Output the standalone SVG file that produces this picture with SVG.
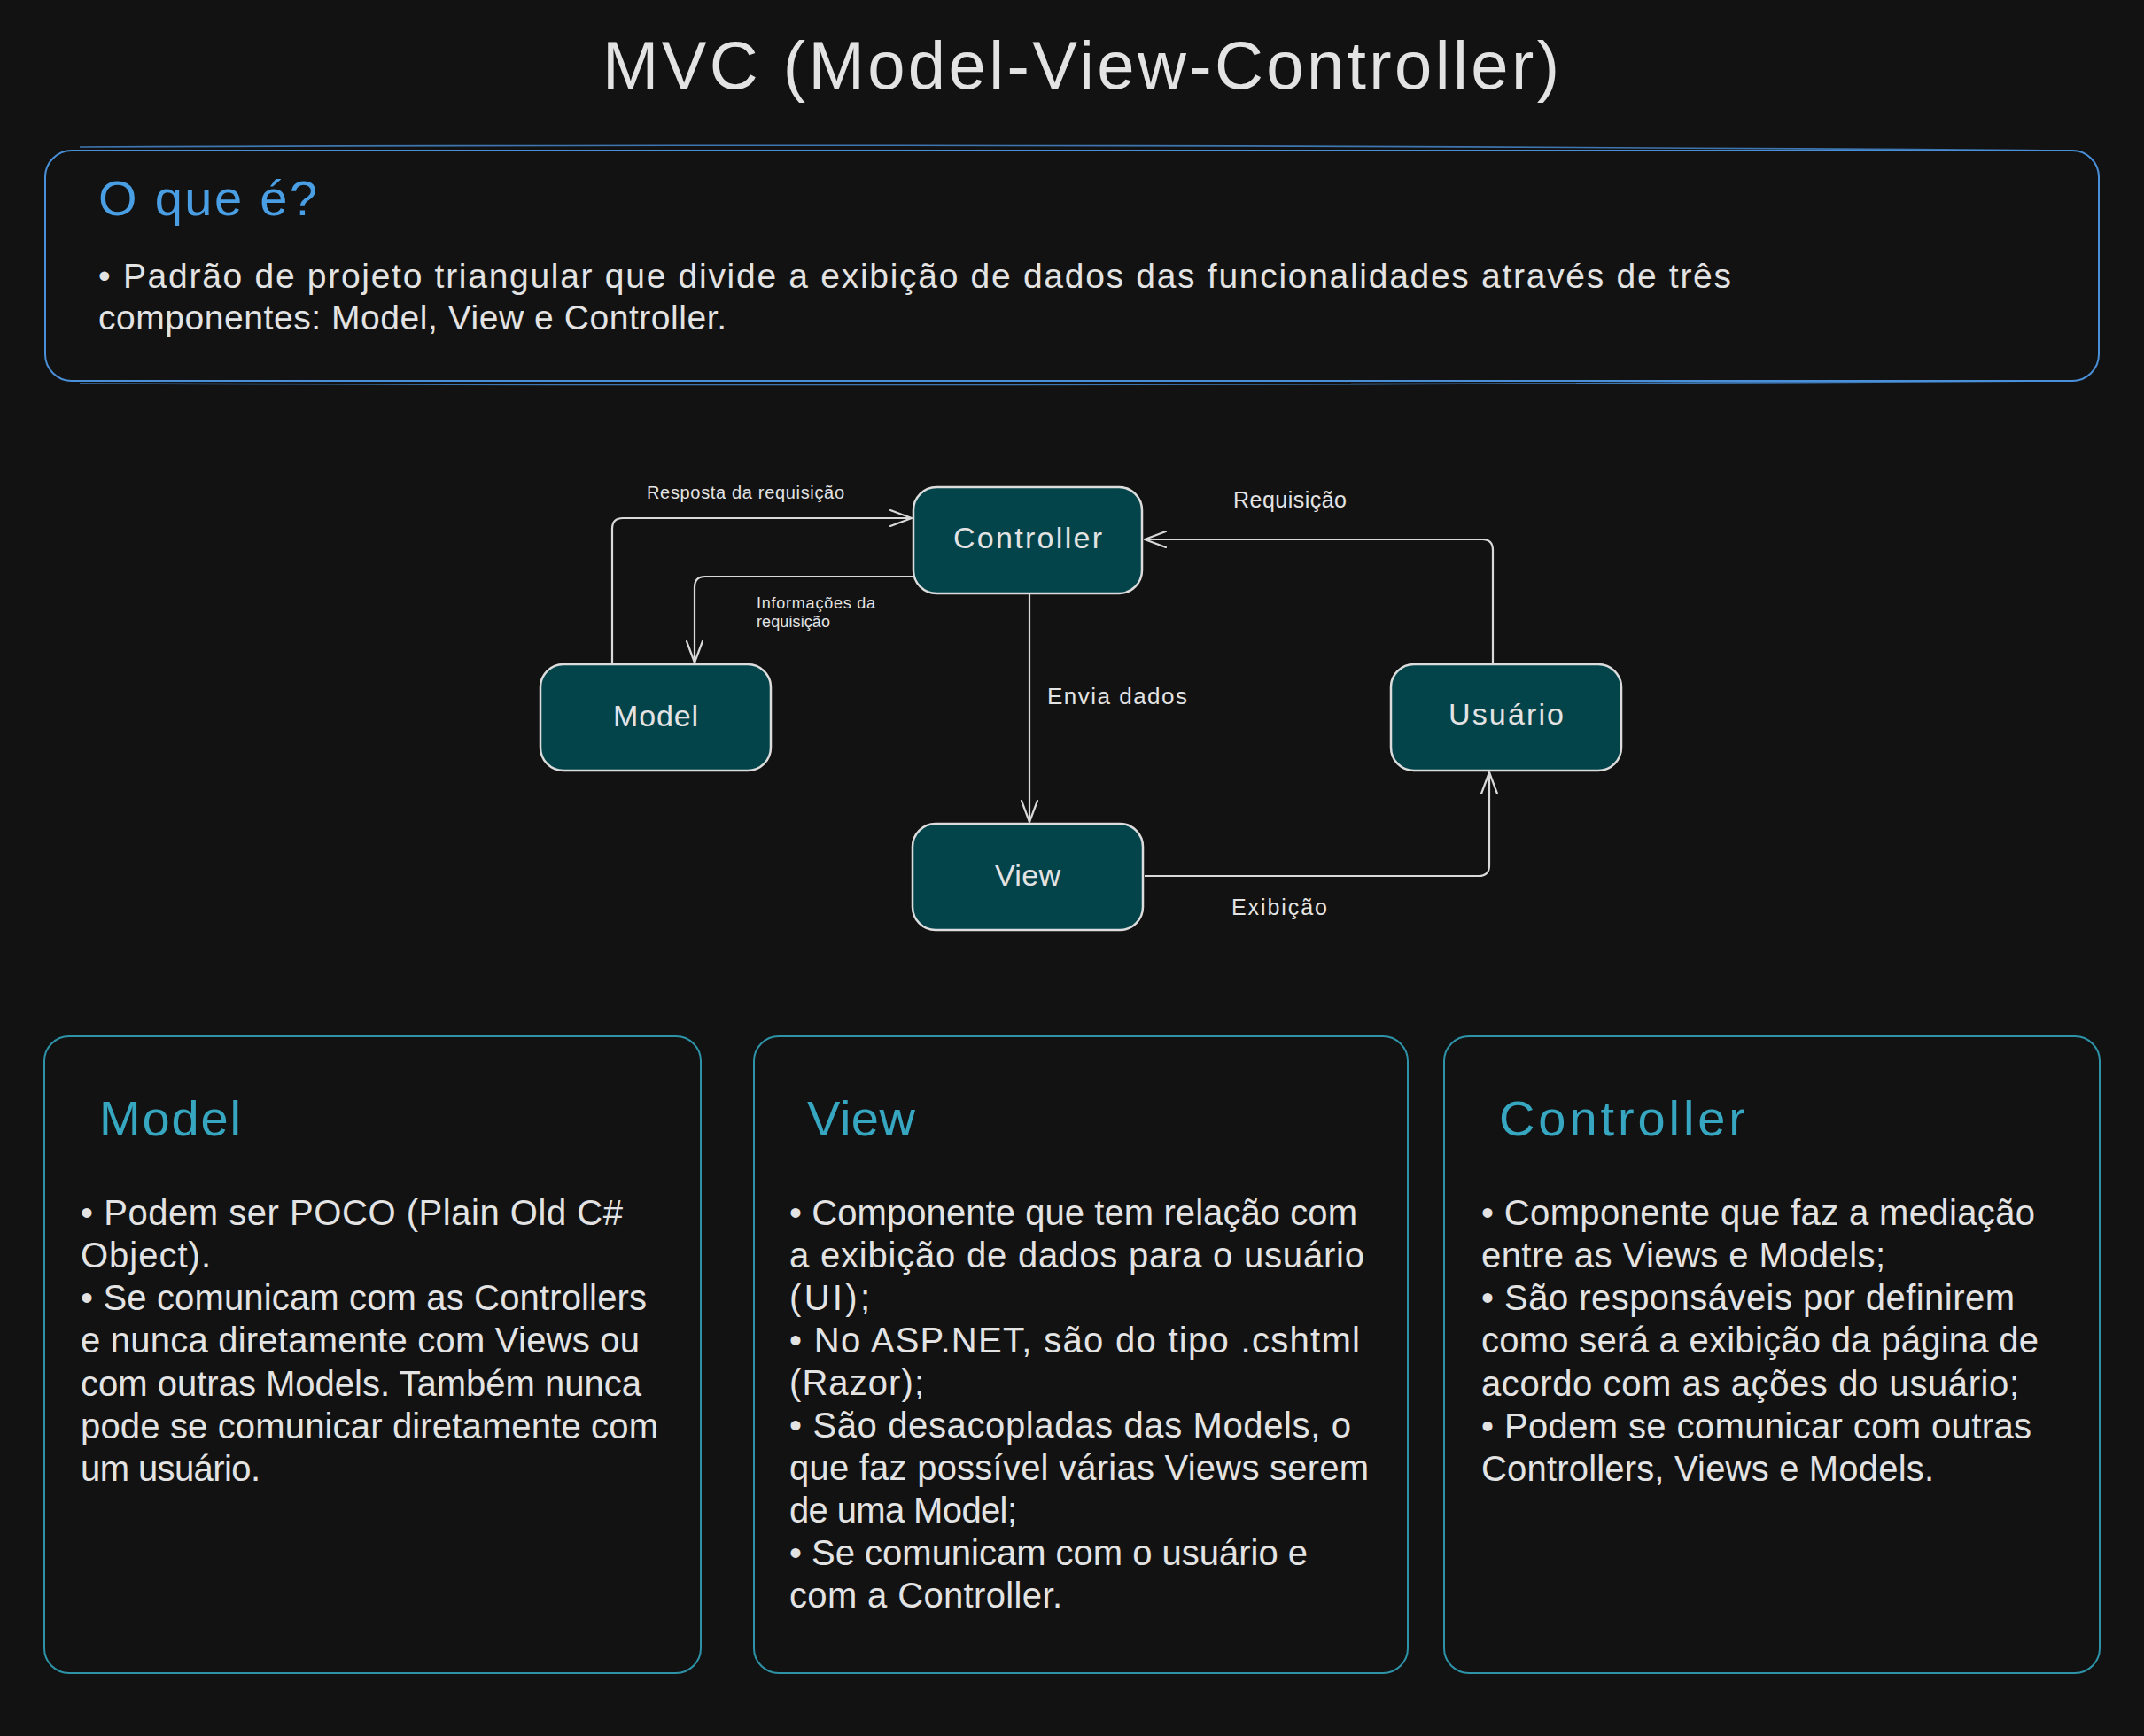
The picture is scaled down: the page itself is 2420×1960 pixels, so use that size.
<svg xmlns="http://www.w3.org/2000/svg" width="2420" height="1960" viewBox="0 0 2420 1960">
<style>
text{font-family:"Liberation Sans","Noto Sans",Arial,sans-serif;fill:#e3e3e3}
.node rect{fill:#03444b;stroke:#dcdcdc;stroke-width:2.5}
.nlabel{font-size:34px;text-anchor:middle}
.elabel{font-size:25px}
.conn{fill:none;stroke:#d9d9d9;stroke-width:2.2;stroke-linejoin:round}
.body{font-size:40px}
.ptitle{font-size:56px;fill:#37a6c0}
.panel{fill:#121212;stroke:#2e93a8;stroke-width:2}
</style>
<defs>
<marker id="arr" viewBox="0 0 26 20" refX="25" refY="10" markerWidth="26" markerHeight="20" markerUnits="userSpaceOnUse" orient="auto">
<path d="M1,1 L25,10 L1,19" fill="none" stroke="#d9d9d9" stroke-width="2.2" stroke-linecap="round" stroke-linejoin="round"/>
</marker>
</defs>
<rect x="0" y="0" width="2420" height="1960" fill="#121212"/>

<text x="1220" y="100" font-size="76" text-anchor="middle" textLength="1080" lengthAdjust="spacing">MVC (Model-View-Controller)</text>

<g id="intro">
<rect x="51" y="170" width="2318" height="260" rx="30" fill="none" stroke="#4a90d9" stroke-width="2"/>
<path d="M90,166 Q1200,161 2330,170" fill="none" stroke="#4a90d9" stroke-width="1.6" opacity="0.8"/>
<path d="M90,433 Q1200,437 2330,430" fill="none" stroke="#4a90d9" stroke-width="1.6" opacity="0.8"/>
<text x="111" y="243" font-size="56" fill="#4a9fe4" style="fill:#4a9fe4" textLength="247" lengthAdjust="spacing">O que é?</text>
<text x="111" y="325" font-size="39" textLength="1843" lengthAdjust="spacing">• Padrão de projeto triangular que divide a exibição de dados das funcionalidades através de três</text>
<text x="111" y="372" font-size="39" textLength="709" lengthAdjust="spacing">componentes: Model, View e Controller.</text>
</g>

<g id="connectors">
<path class="conn" d="M691,750 L691,597 Q691,585 703,585 L1029,585" marker-end="url(#arr)"/>
<text class="elabel" x="730" y="563" font-size="20" style="font-size:20px" textLength="223" lengthAdjust="spacing">Resposta da requisição</text>
<path class="conn" d="M1031,651 L796,651 Q784,651 784,663 L784,748" marker-end="url(#arr)"/>
<text x="854" y="687" style="font-size:18px" textLength="134" lengthAdjust="spacing">Informações da</text>
<text x="854" y="708" style="font-size:18px" textLength="83" lengthAdjust="spacing">requisição</text>
<path class="conn" d="M1162,670 L1162,928" marker-end="url(#arr)"/>
<text class="elabel" x="1182" y="795" style="font-size:26px" textLength="158" lengthAdjust="spacing">Envia dados</text>
<path class="conn" d="M1685,750 L1685,621 Q1685,609 1673,609 L1292,609" marker-end="url(#arr)"/>
<text class="elabel" x="1392" y="573" textLength="128" lengthAdjust="spacing">Requisição</text>
<path class="conn" d="M1292,989 L1669,989 Q1681,989 1681,977 L1681,872" marker-end="url(#arr)"/>
<text class="elabel" x="1390" y="1033" textLength="108" lengthAdjust="spacing">Exibição</text>
</g>

<g id="node-controller" class="node">
<rect x="1031" y="550" width="258" height="120" rx="26"/>
<text class="nlabel" x="1160" y="619" textLength="168" lengthAdjust="spacing">Controller</text>
</g>
<g id="node-model" class="node">
<rect x="610" y="750" width="260" height="120" rx="26"/>
<text class="nlabel" x="740" y="820" textLength="96" lengthAdjust="spacing">Model</text>
</g>
<g id="node-view" class="node">
<rect x="1030" y="930" width="260" height="120" rx="26"/>
<text class="nlabel" x="1160" y="1000" textLength="74" lengthAdjust="spacing">View</text>
</g>
<g id="node-usuario" class="node">
<rect x="1570" y="750" width="260" height="120" rx="26"/>
<text class="nlabel" x="1700" y="818" textLength="130" lengthAdjust="spacing">Usuário</text>
</g>

<g id="panel-model">
<rect class="panel" x="50" y="1170" width="741" height="719" rx="28"/>
<text class="ptitle" x="112" y="1282" textLength="160" lengthAdjust="spacing">Model</text>
<text class="body" x="91" y="1383" textLength="612" lengthAdjust="spacing">• Podem ser POCO (Plain Old C#</text>
<text class="body" x="91" y="1431" textLength="147" lengthAdjust="spacing">Object).</text>
<text class="body" x="91" y="1479" textLength="639" lengthAdjust="spacing">• Se comunicam com as Controllers</text>
<text class="body" x="91" y="1527" textLength="631" lengthAdjust="spacing">e nunca diretamente com Views ou</text>
<text class="body" x="91" y="1576" textLength="633" lengthAdjust="spacing">com outras Models. Também nunca</text>
<text class="body" x="91" y="1624" textLength="652" lengthAdjust="spacing">pode se comunicar diretamente com</text>
<text class="body" x="91" y="1672" textLength="203" lengthAdjust="spacing">um usuário.</text>
</g>

<g id="panel-view">
<rect class="panel" x="851" y="1170" width="738" height="719" rx="28"/>
<text class="ptitle" x="911" y="1282" textLength="122" lengthAdjust="spacing">View</text>
<text class="body" x="891" y="1383" textLength="641" lengthAdjust="spacing">• Componente que tem relação com</text>
<text class="body" x="891" y="1431" textLength="649" lengthAdjust="spacing">a exibição de dados para o usuário</text>
<text class="body" x="891" y="1479" textLength="91" lengthAdjust="spacing">(UI);</text>
<text class="body" x="891" y="1527" textLength="644" lengthAdjust="spacing">• No ASP.NET, são do tipo .cshtml</text>
<text class="body" x="891" y="1575" textLength="152" lengthAdjust="spacing">(Razor);</text>
<text class="body" x="891" y="1623" textLength="634" lengthAdjust="spacing">• São desacopladas das Models, o</text>
<text class="body" x="891" y="1671" textLength="654" lengthAdjust="spacing">que faz possível várias Views serem</text>
<text class="body" x="891" y="1719" textLength="257" lengthAdjust="spacing">de uma Model;</text>
<text class="body" x="891" y="1767" textLength="585" lengthAdjust="spacing">• Se comunicam com o usuário e</text>
<text class="body" x="891" y="1815" textLength="308" lengthAdjust="spacing">com a Controller.</text>
</g>

<g id="panel-controller">
<rect class="panel" x="1630" y="1170" width="740" height="719" rx="28"/>
<text class="ptitle" x="1692" y="1282" textLength="278" lengthAdjust="spacing">Controller</text>
<text class="body" x="1672" y="1383" textLength="625" lengthAdjust="spacing">• Componente que faz a mediação</text>
<text class="body" x="1672" y="1431" textLength="456" lengthAdjust="spacing">entre as Views e Models;</text>
<text class="body" x="1672" y="1479" textLength="602" lengthAdjust="spacing">• São responsáveis por definirem</text>
<text class="body" x="1672" y="1527" textLength="629" lengthAdjust="spacing">como será a exibição da página de</text>
<text class="body" x="1672" y="1576" textLength="607" lengthAdjust="spacing">acordo com as ações do usuário;</text>
<text class="body" x="1672" y="1624" textLength="621" lengthAdjust="spacing">• Podem se comunicar com outras</text>
<text class="body" x="1672" y="1672" textLength="511" lengthAdjust="spacing">Controllers, Views e Models.</text>
</g>
</svg>
